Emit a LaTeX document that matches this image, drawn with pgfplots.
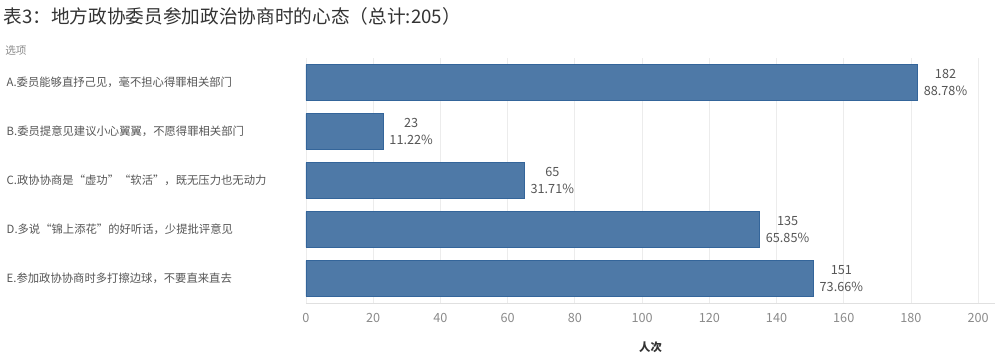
\documentclass[border=0pt]{standalone}
\usepackage{pgfplots}
\pgfplotsset{compat=1.18}
\usepackage{pgfplotstable}
\usepackage{fontspec}
\setmainfont{Noto Sans CJK SC}
\definecolor{barblue}{HTML}{4E79A7}
\definecolor{bardark}{HTML}{34659A}
\definecolor{titlegray}{HTML}{333333}
\definecolor{labgray}{HTML}{555555}
\definecolor{tickgray}{HTML}{8A8A8A}
\definecolor{gridgray}{HTML}{ECECEC}
\pgfplotstableread{
idx value pct
0 182 88.78
1 23 11.22
2 65 31.71
3 135 65.85
4 151 73.66
}\datatable
\begin{document}
\begin{tikzpicture}[x=1pt,y=1pt]
\useasboundingbox (0,0) rectangle (750,271.5);
\node[anchor=north west, font=\fontsize{14}{16}\selectfont, text=titlegray, inner sep=0] at (2.5,266) {表3：地方政协委员参加政治协商时的心态（总计:205）};
\node[anchor=west, font=\fontsize{8}{9}\selectfont, text=tickgray, inner sep=0] at (3.75,234) {选项};
\begin{axis}[
  at={(229.5pt,44.25pt)}, anchor=south west,
  scale only axis, width=516.75pt, height=183.75pt,
  /pgf/number format/assume math mode=true,
  xbar, bar width=0.73,
  xmin=0, xmax=205, ymin=-0.5, ymax=4.5, y dir=reverse,
  axis x line*=bottom, axis y line*=left,
  x axis line style={draw=gridgray!70!gray!60},
  y axis line style={draw=none},
  major tick length=0pt,
  ytick={0,1,2,3,4},
  yticklabels={A.委员能够直抒己见，毫不担心得罪相关部门,
    B.委员提意见建议小心翼翼，不愿得罪相关部门,
    C.政协协商是“虚功”“软活”，既无压力也无动力,
    D.多说“锦上添花”的好听话，少提批评意见,
    E.参加政协协商时多打擦边球，不要直来直去},
  yticklabel style={anchor=west, xshift=-228pt, font=\fontsize{8.5}{10}\selectfont, text=labgray},
  xtick={0,20,...,200},
  xticklabel style={font=\fontsize{9.5}{11}\selectfont, text=tickgray, yshift=-4pt},
  xmajorgrids, grid style={draw=gridgray, line width=0.6pt},
  xlabel={人次},
  xlabel style={at={(axis description cs:0.5,0)}, anchor=center, yshift=-33pt, font=\fontsize{8.5}{10}\selectfont\bfseries, text=titlegray},
  nodes near coords={\pgfmathprintnumber{\pgfplotspointmeta}\\\pgfmathprintnumber[fixed,fixed zerofill,precision=2]{\pct}\%},
  visualization depends on={\thisrow{pct} \as \pct},
  every node near coord/.append style={anchor=west, align=center, xshift=1pt, font=\fontsize{9.5}{12.5}\selectfont, text=labgray},
]
\addplot[fill=barblue, draw=bardark, line width=0.6pt] table[x=value, y=idx] {\datatable};
\end{axis}
\end{tikzpicture}
\end{document}
